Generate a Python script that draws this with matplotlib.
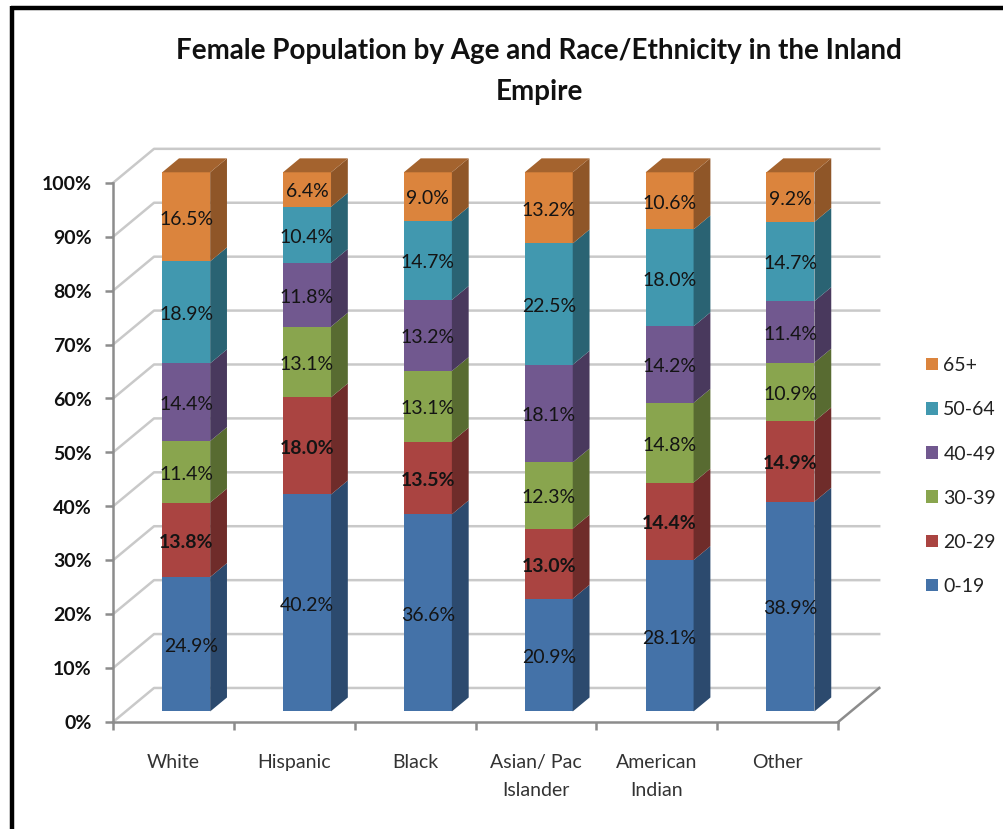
import numpy as np
import matplotlib
matplotlib.use("Agg")
import matplotlib.pyplot as plt
from matplotlib.lines import Line2D
from matplotlib.patches import Patch, Polygon

plt.rcParams['font.family'] = ['Lato', 'DejaVu Sans']

categories = ["White", "Hispanic", "Black", "Asian/ Pac\nIslander", "American\nIndian", "Other"]
age_groups = ["0-19", "20-29", "30-39", "40-49", "50-64", "65+"]

age_0_19 = [24.9, 40.2, 36.6, 20.9, 28.1, 38.9]
age_20_29 = [13.8, 18.0, 13.5, 13.0, 14.4, 14.9]
age_30_39 = [11.4, 13.1, 13.1, 12.3, 14.8, 10.9]
age_40_49 = [14.4, 11.8, 13.2, 18.1, 14.2, 11.4]
age_50_64 = [18.9, 10.4, 14.7, 22.5, 18.0, 14.7]
age_65_up = [16.5, 6.4, 9.0, 13.2, 10.6, 9.2]

y_ticks = [0, 10, 20, 30, 40, 50, 60, 70, 80, 90, 100]

front_colors = ["#4472a8", "#aa4441", "#89a54e", "#71588f", "#4198af", "#db843d"]
side_colors = ["#2c4a6e", "#6f2c2a", "#586b31", "#49395d", "#2a6373", "#8f5628"]
top_color = "#a4632e"

W, H = 1003, 829
# the extra 0.2 px stops savefig rounding the size down by one pixel
fig = plt.figure(figsize=((W + 0.2) / 100, (H + 0.2) / 100), dpi=100)
ax = fig.add_axes([113 / W, (H - 722) / H, 725 / W, 539 / H])
ax.set_xlim(0, 6)
ax.set_ylim(0, 100)

# depth of the 3D box, as a shift in data units per unit of depth
shift_x = 41 / (725 / 6)
shift_y = 34 / 5.39
bar_width = 0.397
d_front, d_back = 0.31, 0.72


def project(x, y, d):
    return x + d * shift_x, y + d * shift_y


# walls and floor
for t in y_ticks:
    x0, y0 = project(0, t, 0)
    x1, y1 = project(0, t, 1)
    x2, y2 = project(6, t, 1)
    ax.plot([x0, x1, x2], [y0, y1, y2], color="#c9c9c9", lw=1.8, clip_on=False, zorder=1)
x0, y0 = project(6, 0, 0)
x1, y1 = project(6, 0, 1)
ax.plot([x0, x1], [y0, y1], color="#8c8c8c", lw=1.8, clip_on=False, zorder=2)

series = np.array([age_0_19, age_20_29, age_30_39, age_40_49, age_50_64, age_65_up])
shares = series / series.sum(axis=0) * 100
bottoms = np.vstack([np.zeros(6), np.cumsum(shares, axis=0)[:-1]])
centers = np.arange(6) + 0.5

for s in range(len(age_groups)):
    fx, fy = project(centers, bottoms[s], d_front)
    ax.bar(fx, shares[s], bar_width, bottom=fy, color=front_colors[s], lw=0, zorder=3, clip_on=False)
    for c in range(6):
        right = centers[c] + bar_width / 2
        low, top = bottoms[s][c], bottoms[s][c] + shares[s][c]
        side = [project(right, low, d_front), project(right, low, d_back),
                project(right, top, d_back), project(right, top, d_front)]
        ax.add_patch(Polygon(side, closed=True, fc=side_colors[s], lw=0, zorder=3, clip_on=False))
        if s == len(age_groups) - 1:
            left = centers[c] - bar_width / 2
            lid = [project(left, top, d_front), project(right, top, d_front),
                   project(right, top, d_back), project(left, top, d_back)]
            ax.add_patch(Polygon(lid, closed=True, fc=top_color, lw=0, zorder=3, clip_on=False))
        # the 20-29 labels are heavier in the original
        weight = "bold" if s == 1 else "normal"
        nudge = 0.045 if (s == 0 and c == 0) else 0
        lx, ly = project(centers[c] + nudge, low + shares[s][c] / 2 - 0.4, d_front)
        ax.text(lx, ly, f"{series[s][c]:.1f}%", ha="center", va="center", fontsize=14,
                fontweight=weight, color="#141414", zorder=5)

# axes
for side in ["top", "right"]:
    ax.spines[side].set_visible(False)
for side in ["left", "bottom"]:
    ax.spines[side].set_color("#8c8c8c")
    ax.spines[side].set_linewidth(1.8)
    ax.spines[side].set_zorder(2)
ax.patch.set_alpha(0)
ax.set_yticks(y_ticks)
ax.set_yticklabels([f"{t}%" for t in y_ticks], fontsize=14, color="#111111", fontweight="bold")
ax.tick_params(axis="y", length=5.5, width=1.8, color="#8c8c8c", pad=10)
ax.set_xticks(np.arange(7))
ax.set_xticklabels([])
ax.set_xticks(centers, minor=True)
ax.set_xticklabels(categories, minor=True, fontsize=14, color="#333333", linespacing=1.8)
ax.tick_params(axis="x", which="major", length=5.5, width=1.8, color="#8c8c8c")
ax.tick_params(axis="x", which="minor", length=0, pad=23)

fig.text(539 / W, 1 - 51 / H, "Female Population by Age and Race/Ethnicity in the Inland",
         ha="center", va="center", fontsize=20, fontweight="bold", color="#111111")
fig.text(539 / W, 1 - 92 / H, "Empire",
         ha="center", va="center", fontsize=20, fontweight="bold", color="#111111")

handles = [Patch(fc=c, lw=0) for c in front_colors[::-1]]
fig.legend(handles, age_groups[::-1], loc="center left", bbox_to_anchor=(926 / W, 1 - 476 / H),
           frameon=False, fontsize=14, labelcolor="#222222", handlelength=0.62, handleheight=0.62,
           handletextpad=0.26, labelspacing=1.4, borderpad=0, borderaxespad=0)

# black frame of the screenshot (left and top only)
fig.add_artist(Line2D([12 / W, 12 / W], [0, 1 - 6 / H], color="black", lw=3.2, solid_capstyle="butt"))
fig.add_artist(Line2D([10.5 / W, 1], [1 - 8 / H, 1 - 8 / H], color="black", lw=3.2, solid_capstyle="butt"))

fig.savefig("out.png", dpi=100)
